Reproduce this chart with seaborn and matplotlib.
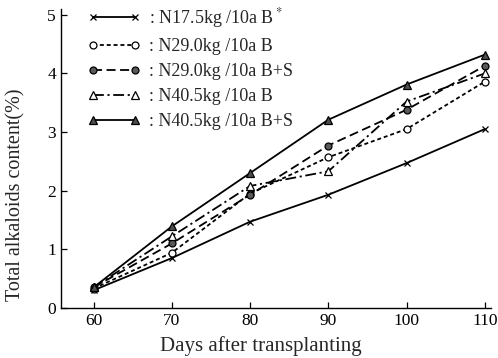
import numpy as np
import pandas as pd
import seaborn as sns
import matplotlib.pyplot as plt

days = [60, 70, 80, 90, 100, 110]
s1 = [0.30, 0.85, 1.47, 1.93, 2.47, 3.05]
s2 = [0.33, 0.94, 1.95, 2.57, 3.05, 3.86]
s3 = [0.35, 1.10, 1.93, 2.77, 3.38, 4.13]
s4 = [0.35, 1.22, 2.08, 2.33, 3.52, 4.00]
s5 = [0.35, 1.39, 2.30, 3.21, 3.81, 4.32]
labels = [': N17.5kg /10a B$^*$', ': N29.0kg /10a B', ': N29.0kg /10a B+S',
          ': N40.5kg /10a B', ': N40.5kg /10a B+S']

sns.set_theme(style='ticks')
plt.rcParams['font.family'] = ['Liberation Serif', 'DejaVu Serif']
plt.rcParams['mathtext.fontset'] = 'stix'

fig = plt.figure(figsize=(4.98, 3.58), dpi=100)
ax = fig.add_axes([0.122, 0.14, 0.864, 0.835])

styles = [
    dict(marker='x', linestyle='-', mfc='black', ms=5),
    dict(marker='o', linestyle=(0, (2.2, 1.6)), mfc='white', ms=5),
    dict(marker='o', linestyle=(0, (5, 2.5)), mfc='0.35', ms=5),
    dict(marker='^', linestyle=(0, (6, 2, 1.2, 2)), mfc='white', ms=6),
    dict(marker='^', linestyle='-', mfc='0.3', ms=6),
]

for vals, lab, st in zip([s1, s2, s3, s4, s5], labels, styles):
    df = pd.DataFrame({'day': days, 'val': vals})
    sns.lineplot(data=df, x='day', y='val', ax=ax, color='black', lw=1.3,
                 mec='black', mew=0.9, label=lab, **st)

ax.set_xlim(55.8, 110.8)
ax.set_ylim(0, 5.1)
ax.set_xticks(days)
ax.set_yticks([0, 1, 2, 3, 4, 5])
ax.tick_params(direction='in', length=4, width=0.9, labelsize=12.5, colors='black')
for s in ['top', 'right']:
    ax.spines[s].set_visible(False)
for s in ['left', 'bottom']:
    ax.spines[s].set_linewidth(1.0)
    ax.spines[s].set_color('black')

ax.set_xlabel('Days after transplanting', fontsize=15, labelpad=5)
ax.xaxis.set_label_coords(0.465, -0.095)
ax.set_ylabel('Total alkaloids content(%)', fontsize=14.5, labelpad=8)
ax.yaxis.set_label_coords(-0.082, 0.38)

ax.legend(loc='upper left', bbox_to_anchor=(0.025, 1.065), frameon=False,
          fontsize=13, numpoints=2, handlelength=2.9, handletextpad=0.5,
          labelspacing=0.45)

fig.savefig('out.png', dpi=100)
